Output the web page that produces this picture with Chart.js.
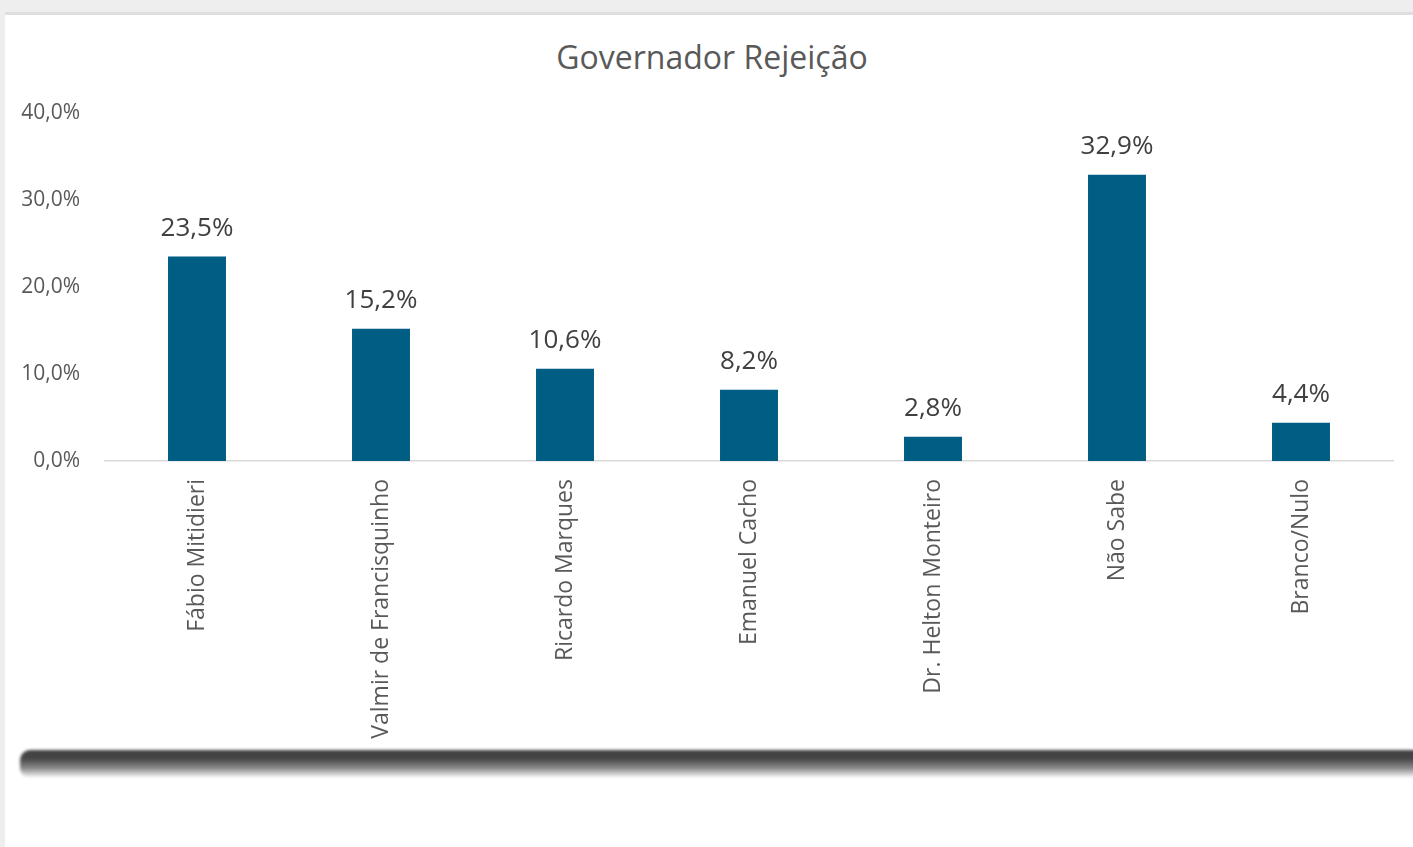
<!DOCTYPE html>
<html>
<head>
<meta charset="utf-8">
<script src="https://cdn.jsdelivr.net/npm/chart.js@4/dist/chart.umd.min.js"></script>
<style>
  html, body { margin: 0; padding: 0; }
  body { width: 1413px; height: 847px; background: #ffffff; position: relative; overflow: hidden; }
  .top-strip { position: absolute; left: 0; top: 0; width: 1413px; height: 12px; background: #eeeeee; }
  .left-strip { position: absolute; left: 0; top: 0; width: 5px; height: 847px; background: #eeeeee; }
  .card { position: absolute; left: 5px; top: 12px; width: 1408px; height: 738px; background: #fff; border-top: 3px solid #dedede; box-sizing: border-box; }
  .shadow { position: absolute; left: 20px; top: 750px; width: 1400px; height: 28px;
    background: linear-gradient(#404040 0%, #454545 30%, #8a8a8a 65%, #ffffff 100%);
    border-radius: 10px 0 0 10px; filter: blur(1.5px); }
  #wrap { position: absolute; left: 0; top: 0; width: 1413px; height: 750px; }
  #title { position: absolute; left: 0; top: 37px; width: 1424px; text-align: center;
    font: 32px/40px "Open Sans"; color: #595959; }
</style>
</head>
<body>
<div class="top-strip"></div>
<div class="left-strip"></div>
<div class="card"></div>
<div class="shadow"></div>
<div id="title"></div>
<div id="wrap"><canvas id="chart"></canvas></div>
<script>
const chartTitle = 'Governador Rejeição';
const categories = ['Fábio Mitidieri', 'Valmir de Francisquinho', 'Ricardo Marques', 'Emanuel Cacho', 'Dr. Helton Monteiro', 'Não Sabe', 'Branco/Nulo'];
const rejection = [23.5, 15.2, 10.6, 8.2, 2.8, 32.9, 4.4];
const yTicks = [0, 10, 20, 30, 40];

const fmt = v => v.toFixed(1).replace('.', ',') + '%';
const FONT = '"Open Sans"';

document.getElementById('title').textContent = chartTitle;

const valueLabels = {
  id: 'valueLabels',
  afterDatasetsDraw(chart) {
    const ctx = chart.ctx;
    const meta = chart.getDatasetMeta(0);
    ctx.save();
    ctx.font = '26px ' + FONT;
    ctx.fillStyle = '#404040';
    ctx.textAlign = 'center';
    ctx.textBaseline = 'middle';
    meta.data.forEach((bar, i) => {
      ctx.fillText(fmt(rejection[i]), bar.x, bar.y - 28);
    });
    ctx.restore();
  }
};

new Chart(document.getElementById('chart'), {
  type: 'bar',
  data: {
    labels: categories,
    datasets: [{
      data: rejection,
      backgroundColor: '#005d84',
      categoryPercentage: 1,
      barPercentage: 0.315
    }]
  },
  options: {
    responsive: true,
    maintainAspectRatio: false,
    animation: false,
    layout: { padding: { left: 0, right: 20, top: 113, bottom: 0 } },
    plugins: {
      legend: { display: false },
      tooltip: { enabled: false },
      title: { display: false }
    },
    scales: {
      x: {
        grid: { display: false },
        border: { display: true, color: '#d9d9d9', width: 1.5 },
        ticks: {
          minRotation: 90, maxRotation: 90, autoSkip: false,
          padding: 10, color: '#595959',
          font: { family: FONT, size: 23 }
        },
        afterFit(scale) { scale.height = 289; }
      },
      y: {
        min: 0, max: 40,
        grid: { display: false },
        border: { display: false },
        afterBuildTicks(scale) { scale.ticks = yTicks.map(v => ({ value: v })); },
        ticks: {
          padding: 17, color: '#595959',
          font: { family: FONT, size: 21 },
          callback: v => fmt(v)
        },
        afterFit(scale) { scale.width = 105; }
      }
    }
  },
  plugins: [valueLabels]
});
</script>
</body>
</html>
